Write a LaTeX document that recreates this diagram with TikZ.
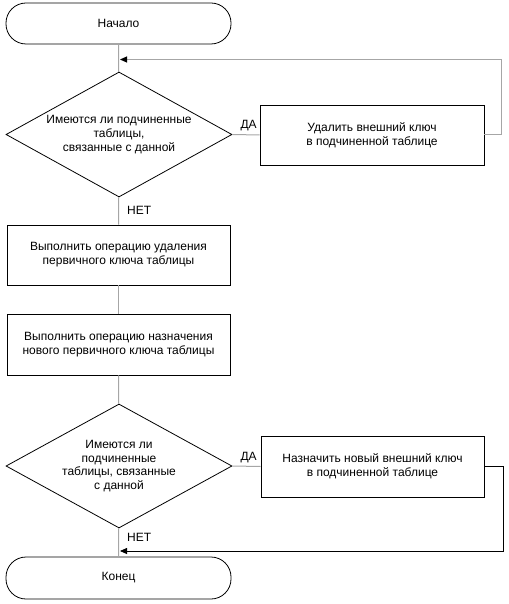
\documentclass[tikz,border=0pt]{standalone}
\usepackage{fontspec}
\setmainfont{Liberation Sans}
\usetikzlibrary{shapes.geometric,arrows.meta}

\begin{document}
\begin{tikzpicture}[x=1pt,y=-1pt,
    font=\fontsize{12}{13.8}\selectfont,
    term/.style={draw,line width=0.8pt,rounded corners=20pt,minimum width=225pt,minimum height=41pt},
    proc/.style={draw,line width=0.8pt,align=center,minimum width=223pt,minimum height=60pt},
    cond/.style={draw,line width=0.8pt,diamond,aspect=1.8,align=center,inner sep=0pt,minimum width=226pt,minimum height=125pt},
    link/.style={draw=black!35,line width=1pt},
    tip/.style={-{Triangle[length=7pt,width=6pt,black]}},
    answer/.style={inner sep=2pt}]
  \useasboundingbox (0,0) rectangle (508,604);
  \node[term] (start) at (118.5,23.5) {Начало};
  \node[cond] (ask1) at (119,134.5) {Имеются ли подчиненные\\таблицы,\\связанные с данной};
  \node[proc,minimum width=224pt] (delfk) at (372,135) {Удалить внешний ключ\\в подчиненной таблице};
  \node[proc] (delpk) at (118.5,255) {Выполнить операцию удаления\\первичного ключа таблицы};
  \node[proc,minimum height=61pt] (newpk) at (118.5,344.5) {Выполнить операцию назначения\\нового первичного ключа таблицы};
  \node[cond,minimum height=124pt] (ask2) at (119,466) {Имеются ли\\подчиненные\\таблицы, связанные\\с данной};
  \node[proc,minimum height=61pt] (setfk) at (372.5,466.5) {Назначить новый внешний ключ\\в подчиненной таблице};
  \node[term,minimum height=42pt] (stop) at (118.5,578) {Конец};
  \coordinate (back1) at (120,59.5);
  \coordinate (back2) at (120,551);

  % main line
  \draw[link] (start) -- (ask1);
  \draw[link] (ask1) -- (delpk);
  \draw[link] (delpk) -- (newpk);
  \draw[link] (newpk) -- (ask2);
  \draw[link] (ask2) -- (stop);

  % branches
  \draw[link] (ask1.east) -- (delfk.west);
  \draw[link] (ask2.east) -- (setfk.west);
  \node[answer,anchor=south west,xshift=6pt,yshift=1pt] (yes1) at (ask1.east) {ДА};
  \node[answer,anchor=south west,xshift=6pt,yshift=1pt] (yes2) at (ask2.east) {ДА};
  \node[answer,anchor=north west,xshift=6pt,yshift=-7pt] (no1) at (ask1.south) {НЕТ};
  \node[answer,anchor=north west,xshift=6pt,yshift=-3pt] (no2) at (ask2.south) {НЕТ};

  % loops back
  \draw[link,tip] (delfk.east) -- ++(17,0) |- (back1);
  \draw[line width=0.8pt,tip] (setfk.east) -- ++(19,0) |- (back2);
\end{tikzpicture}
\end{document}
